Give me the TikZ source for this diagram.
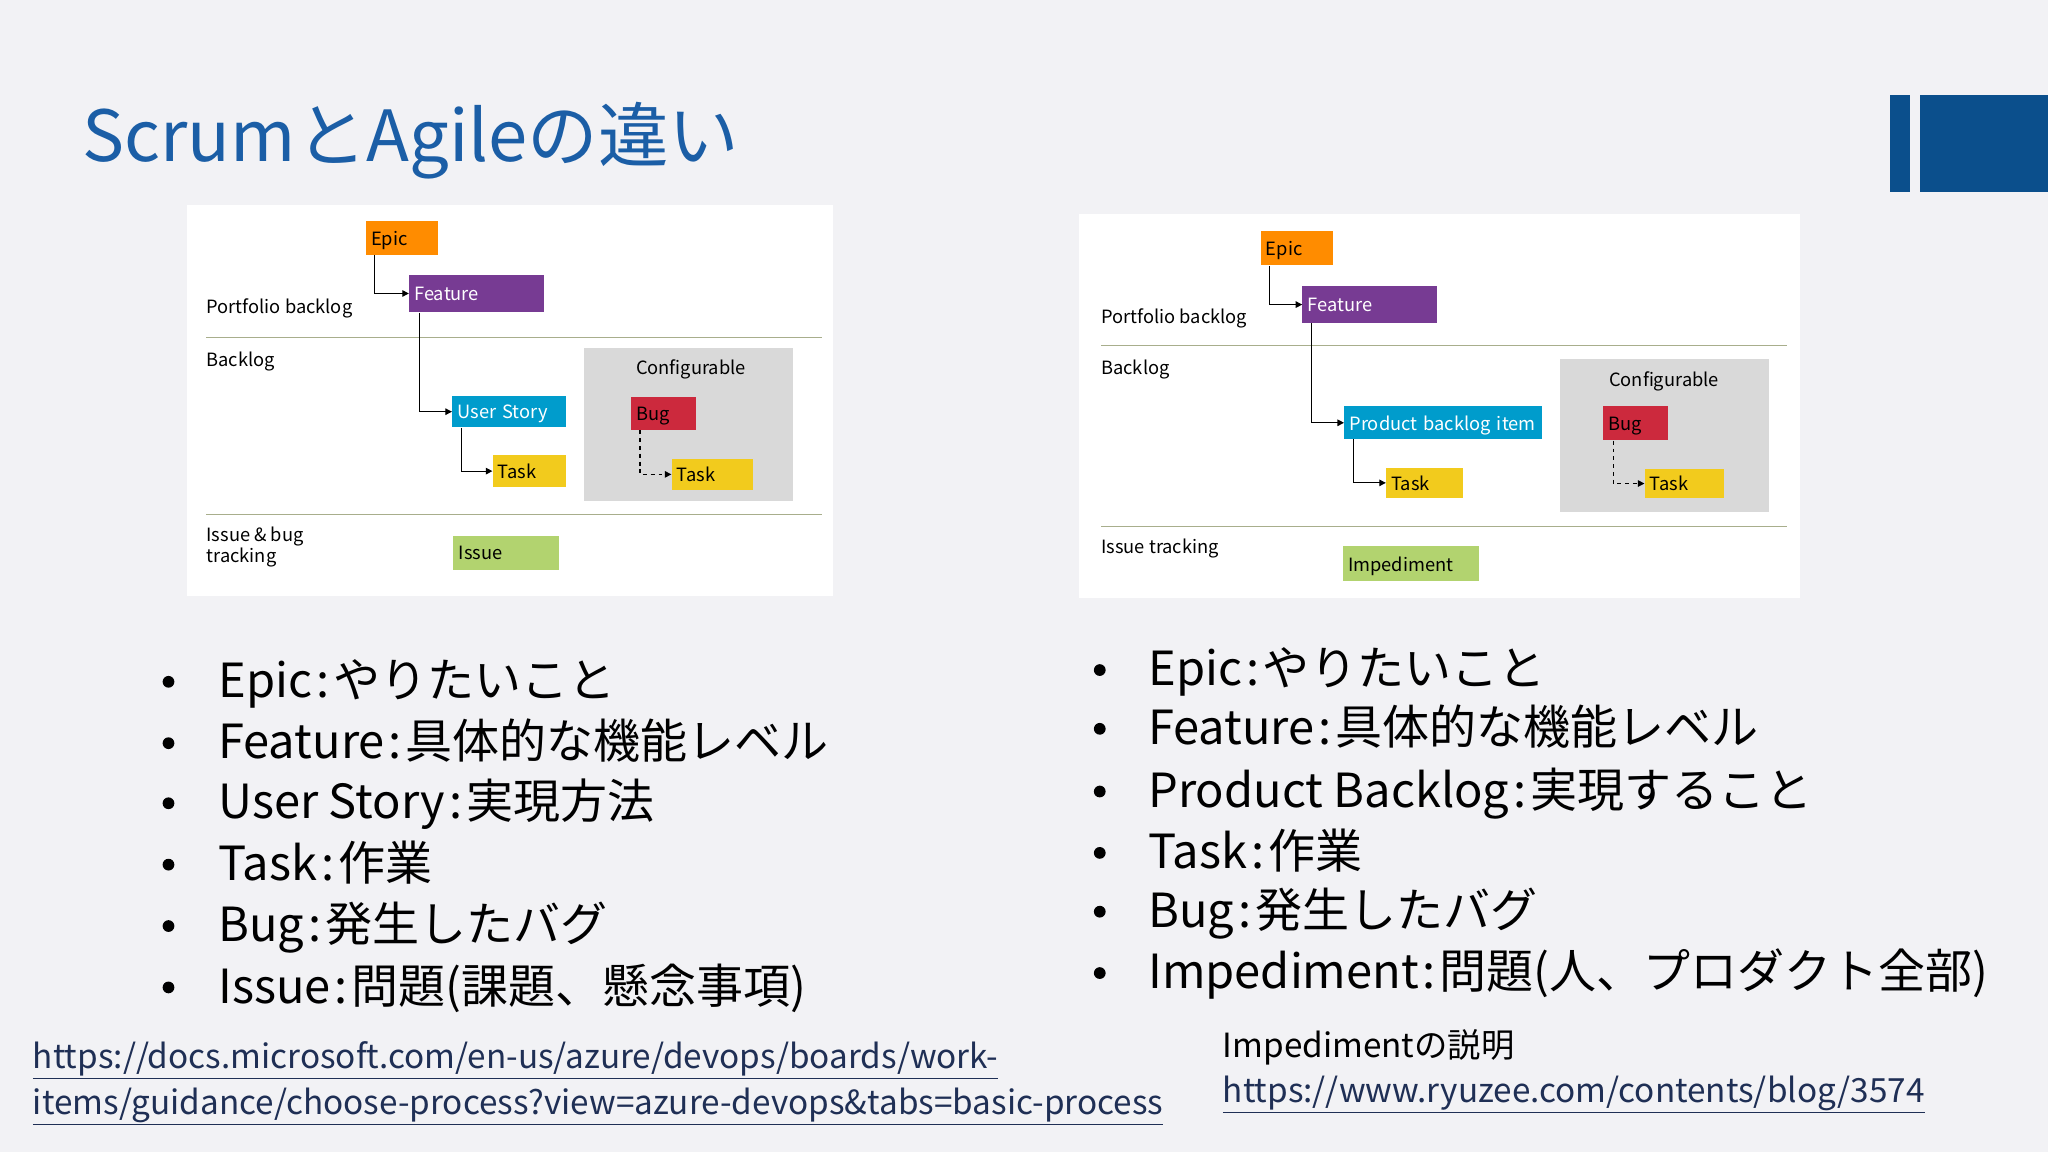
\documentclass[tikz,border=0pt]{standalone}
\usepackage{fontspec}
\setmainfont{Noto Sans CJK JP}
\usetikzlibrary{arrows.meta}
\definecolor{bg}{HTML}{F2F2F5}
\definecolor{ttl}{HTML}{1B5EA6}
\definecolor{deco}{HTML}{0B4F8C}
\definecolor{cepic}{HTML}{FF8C00}
\definecolor{cfeat}{HTML}{773B93}
\definecolor{cstory}{HTML}{009CCC}
\definecolor{ctask}{HTML}{F2CB1D}
\definecolor{cbug}{HTML}{CC293D}
\definecolor{cissue}{HTML}{B2D36F}
\definecolor{cconf}{HTML}{D9D9D9}
\definecolor{sep}{HTML}{A8AE8C}
\definecolor{lnk}{HTML}{1F2F55}
\tikzset{
 wi/.style={x=1pt,y=-1pt},
 wbox/.style={anchor=north west,inner sep=0pt,font=\fontsize{14}{16}\selectfont,text depth=0pt},
 lbl/.style={anchor=west,inner sep=0pt,font=\fontsize{14}{16}\selectfont,align=left},
 conn/.style={draw=black,line width=0.8pt,-{Triangle[length=5pt,width=5pt]}},
 dconn/.style={conn,dashed},
 bul/.style={anchor=base west,inner sep=0pt,font=\fontsize{36}{40}\selectfont},
 lk/.style={anchor=west,inner sep=0pt,font=\fontsize{25.5}{30}\selectfont,text=lnk},
}
\newcommand{\cln}{\kern3pt:\kern3pt}
\begin{document}
\begin{tikzpicture}[wi]
\useasboundingbox (0,0) rectangle (1568,882);
\fill[bg] (0,0) rectangle (1568,882);
\node[anchor=west,inner sep=0pt,text=ttl,font=\fontsize{54}{60}\selectfont] (title) at (63,108) {ScrumとAgileの違い};
\fill[deco] (1447,73) rectangle (1462,147);
\fill[deco] (1470,73) rectangle (1568,147);
% left panel
\fill[white] (143,157) rectangle (638,456);
\node[wbox,fill=cepic,minimum width=55pt,minimum height=26pt,text width=47pt,inner xsep=4pt] (e1) at (280,169) {Epic};
\node[wbox,fill=cfeat,text=white,minimum width=103pt,minimum height=29pt,text width=95pt,inner xsep=4pt] (f1) at (313,210) {Feature};
\node[lbl] (pb1) at (158,236) {Portfolio backlog};
\draw[sep] (158,258) -- (629,258);
\node[lbl] (bl1) at (158,277) {Backlog};
\node[wbox,fill=cstory,text=white,minimum width=87pt,minimum height=24pt,text width=79pt,inner xsep=4pt] (us1) at (346,303) {User Story};
\node[wbox,fill=ctask,minimum width=56pt,minimum height=25pt,text width=48pt,inner xsep=4pt] (t1) at (377,348) {Task};
\node[wbox,fill=cconf,minimum width=160pt,minimum height=117pt] (cf1) at (447,266) {};
\node[font=\fontsize{14}{16}\selectfont] (cft1) at (529,283) {Configurable};
\node[wbox,fill=cbug,minimum width=50pt,minimum height=25pt,text width=42pt,inner xsep=4pt] (b1) at (483,304) {Bug};
\node[wbox,fill=ctask,minimum width=62pt,minimum height=24pt,text width=54pt,inner xsep=4pt] (bt1) at (514,351) {Task};
\draw[sep] (158,394) -- (629,394);
\node[lbl,font=\fontsize{14}{16}\selectfont] (ib1) at (158,419) {Issue \& bug\\tracking};
\node[wbox,fill=cissue,minimum width=81pt,minimum height=26pt,text width=73pt,inner xsep=4pt] (is1) at (347,410) {Issue};
\draw[conn] ([xshift=7pt]e1.south west) |- (f1.west);
\draw[conn] ([xshift=8pt]f1.south west) |- (us1.west);
\draw[conn] ([xshift=7pt]us1.south west) |- (t1.west);
\draw[dconn] ([xshift=7pt]b1.south west) |- (bt1.west);
% right panel
\fill[white] (826,164) rectangle (1378,458);
\node[wbox,fill=cepic,minimum width=55pt,minimum height=26pt,text width=47pt,inner xsep=4pt] (e2) at (965,177) {Epic};
\node[wbox,fill=cfeat,text=white,minimum width=103pt,minimum height=28pt,text width=95pt,inner xsep=4pt] (f2) at (997,219) {Feature};
\node[lbl] (pb2) at (843,244) {Portfolio backlog};
\draw[sep] (843,264) -- (1368,264);
\node[lbl] (bl2) at (843,283) {Backlog};
\node[wbox,fill=cstory,text=white,minimum width=151pt,minimum height=25pt,text width=143pt,inner xsep=4pt] (us2) at (1029,311) {Product backlog item};
\node[wbox,fill=ctask,minimum width=59pt,minimum height=23pt,text width=51pt,inner xsep=4pt] (t2) at (1061,358) {Task};
\node[wbox,fill=cconf,minimum width=160pt,minimum height=117pt] (cf2) at (1194,275) {};
\node[font=\fontsize{14}{16}\selectfont] (cft2) at (1274,292) {Configurable};
\node[wbox,fill=cbug,minimum width=50pt,minimum height=26pt,text width=42pt,inner xsep=4pt] (b2) at (1227,311) {Bug};
\node[wbox,fill=ctask,minimum width=61pt,minimum height=22pt,text width=53pt,inner xsep=4pt] (bt2) at (1259,359) {Task};
\draw[sep] (843,403) -- (1368,403);
\node[lbl] (ib2) at (843,420) {Issue tracking};
\node[wbox,fill=cissue,minimum width=104pt,minimum height=27pt,text width=96pt,inner xsep=4pt] (is2) at (1028,418) {Impediment};
\draw[conn] ([xshift=7pt]e2.south west) |- (f2.west);
\draw[conn] ([xshift=7pt]f2.south west) |- (us2.west);
\draw[conn] ([xshift=7pt]us2.south west) |- (t2.west);
\draw[dconn] ([xshift=8pt]b2.south west) |- (bt2.west);
% bullets
\foreach \y/\t [count=\i] in {522/{Epic\cln やりたいこと},569/{Feature\cln 具体的な機能レベル},615/{User Story\cln 実現方法},662/{Task\cln 作業},709/{Bug\cln 発生したバグ},756/{Issue\cln 問題(課題、懸念事項)}}{
 \fill (129,\y) circle (4.5pt);
 \node[bul] (lb\i) at (167,\y+12) {\t};
}
\foreach \y/\t [count=\i] in {513/{Epic\cln やりたいこと},558/{Feature\cln 具体的な機能レベル},606/{Product Backlog\cln 実現すること},653/{Task\cln 作業},698/{Bug\cln 発生したバグ},745/{Impediment\cln 問題(人、プロダクト全部)}}{
 \fill (842,\y) circle (4.5pt);
 \node[bul] (rb\i) at (879,\y+12) {\t};
}
\node[lk] (l1) at (25,812) {\underline{https://docs.microsoft.com/en-us/azure/devops/boards/work-}};
\node[lk] (l2) at (25,847) {\underline{items/guidance/choose-process?view=azure-devops\&tabs=basic-process}};
\node[lk,text=black] (l3) at (936,802) {Impedimentの説明};
\node[lk] (l4) at (936,838) {\underline{https://www.ryuzee.com/contents/blog/3574}};
\end{tikzpicture}
\end{document}
